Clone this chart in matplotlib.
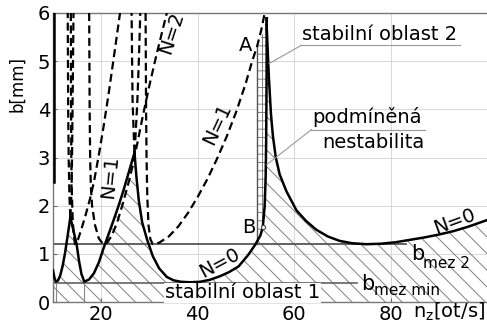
import matplotlib
matplotlib.use('Agg')
import matplotlib.pyplot as plt
import numpy as np
from matplotlib.patches import Polygon

# ---------------- data ----------------
x_ticks = [20, 40, 60, 80]
y_ticks = [0, 1, 2, 3, 4, 5, 6]
b_mez_min = 0.4
b_mez_2 = 1.2
x_strip = 52.3            # left edge of "stabilni oblast 2"
point_A = (52.3, 5.3)
point_B = (53.5, 1.55)

# mode 1 lobes (solid)
m1_n2_x = [10.0, 10.3, 10.6, 11.0, 11.5, 12.0, 12.5, 13.0, 13.6]
m1_n2_b = [0.66, 0.50, 0.42, 0.44, 0.55, 0.75, 1.02, 1.35, 1.76]
m1_n1_x = [13.6, 14.2, 14.9, 15.4, 15.9, 16.5, 17.5, 18.5, 19.5, 20.6, 21.5, 22.5, 23.5, 24.5, 25.5, 26.9]
m1_n1_b = [1.76, 1.50, 1.20, 0.85, 0.58, 0.42, 0.47, 0.60, 0.82, 1.15, 1.40, 1.68, 1.97, 2.28, 2.62, 3.10]
m1_n0_x = [26.9, 27.3, 27.8, 28.5, 29.5, 30.7, 32.0, 33.6, 35.0, 36.5, 38.4, 40.5, 42.5, 44.5,
           46.5, 48.5, 50.5, 52.0, 53.0, 53.5, 53.9, 54.1, 54.2, 54.25, 54.3, 54.3]
m1_n0_b = [3.10, 2.60, 2.10, 1.65, 1.30, 0.95, 0.70, 0.52, 0.45, 0.42, 0.41, 0.42, 0.46, 0.53,
           0.62, 0.74, 0.98, 1.20, 1.38, 1.55, 2.00, 2.60, 3.30, 4.00, 4.80, 5.75]
m1_left_edge_x = [10.12, 10.12]
m1_left_edge_b = [2.5, 6.0]

# mode 1 continuations above the intersections (dashed)
m1c_a_x = [13.6, 13.8, 13.95, 14.05, 14.15, 14.25]
m1c_a_b = [1.76, 2.2, 3.0, 4.0, 5.0, 6.0]
m1c_b_x = [13.6, 13.4, 13.25, 13.15, 13.1, 13.05]
m1c_b_b = [1.76, 2.2, 3.0, 4.0, 5.0, 6.0]
m1c_c_x = [26.9, 27.2, 27.5, 27.8, 28.1]
m1c_c_b = [3.1, 3.6, 4.2, 5.0, 6.0]
m1c_d_x = [26.9, 26.7, 26.5, 26.4, 26.3]
m1c_d_b = [3.1, 3.6, 4.2, 5.0, 6.0]
m1c_e_x = [54.3, 54.45]
m1c_e_b = [5.75, 6.0]

# mode 2 lobes (N=0 solid, others dashed)
m2_n0_x = [54.3, 54.75, 55.2, 55.6, 56.2, 57.0, 58.4, 60.5, 62.5, 64.6, 67.0, 69.4, 72.0, 75.0,
           78.0, 81.0, 84.0, 87.0, 90.0, 93.0, 96.0, 100.0]
m2_n0_b = [5.75, 4.70, 3.90, 3.45, 3.00, 2.65, 2.30, 1.90, 1.68, 1.50, 1.36, 1.27, 1.22, 1.20,
           1.21, 1.24, 1.29, 1.34, 1.40, 1.47, 1.56, 1.70]
m2c_x = [54.3, 54.15]
m2c_b = [5.75, 6.0]
m2_n1_x = [29.2, 29.25, 29.3, 29.4, 29.55, 29.8, 30.2, 30.7, 32.0, 34.0, 36.0, 38.0, 40.0, 42.0,
           44.0, 46.0, 48.0, 50.0, 51.3, 52.3, 53.2, 53.9]
m2_n1_b = [6.0, 5.0, 4.0, 3.0, 2.2, 1.6, 1.3, 1.2, 1.23, 1.36, 1.57, 1.85, 2.18, 2.55,
           2.97, 3.43, 3.95, 4.55, 5.0, 5.3, 5.65, 6.0]
m2_n2_x = [17.5, 17.55, 17.6, 17.7, 17.85, 18.1, 18.7, 19.5, 20.4, 21.2, 22.2, 23.3, 24.5, 26.0,
           27.5, 28.6, 30.0, 31.5, 33.6]
m2_n2_b = [6.0, 5.0, 4.0, 3.0, 2.4, 2.0, 1.6, 1.32, 1.2, 1.23, 1.38, 1.65, 2.05, 2.6,
           3.3, 3.85, 4.5, 5.15, 6.0]
m2_n3_x = [13.7, 13.72, 13.75, 13.8, 13.9, 14.05, 14.25, 14.55, 15.2, 16.0, 16.8, 17.7, 18.5,
           19.5, 20.5, 21.5, 22.5, 23.9]
m2_n3_b = [6.0, 5.0, 4.0, 3.0, 2.3, 1.8, 1.45, 1.2, 1.3, 1.55, 1.82, 2.15, 2.5,
           3.05, 3.65, 4.3, 5.0, 6.0]

# lobe minima of mode 1 marked down to the axis
minima_x = [10.6, 16.5, 38.4]
minima_b = [0.42, 0.42, 0.41]

# ---------------- style ----------------
plt.rcParams['font.family'] = ['DejaVu Sans']
plt.rcParams['mathtext.default'] = 'regular'
plt.rcParams['hatch.linewidth'] = 0.7
plt.rcParams['hatch.color'] = '#808080'

W, H = 487, 329
fig = plt.figure(figsize=(W / 100, H / 100), dpi=100)
ax = fig.add_axes([53 / W, 27 / H, 434 / W, 289 / H])
ax.set_xlim(10, 100)
ax.set_ylim(0, 6)
ax.set_xticks(x_ticks)
ax.set_yticks(y_ticks)
ax.tick_params(labelsize=14, length=3, direction='in', pad=2, color='#666666')
ax.grid(True, color='#d8d8d8', lw=0.7)
ax.set_axisbelow(True)
for s in ['top', 'left', 'bottom']:
    ax.spines[s].set_color('#777777')
    ax.spines[s].set_linewidth(1.0)
ax.spines['right'].set_visible(False)

hatch_col = '#808080'
diag = '\\\\'

# ---- diagonal hatched stable region ----
env_x = m1_n2_x + m1_n1_x[1:] + [x for x in m1_n0_x[1:] if x <= 52.0] + [x_strip]
env_b = m1_n2_b + m1_n1_b[1:] + [b for x, b in zip(m1_n0_x[1:], m1_n0_b[1:]) if x <= 52.0] + [1.22]
poly_left = list(zip(env_x, env_b)) + [(x_strip, 0), (env_x[0], 0)]
ax.add_patch(Polygon(poly_left, closed=True, facecolor='none', edgecolor=hatch_col,
                     hatch=diag, lw=0, zorder=1))
poly_right = [(x_strip, 0), (x_strip, point_A[1]), (m2_n0_x[0], m2_n0_b[0])] + \
             list(zip(m2_n0_x, m2_n0_b)) + [(100, 0)]
ax.add_patch(Polygon(poly_right, closed=True, facecolor='none', edgecolor=hatch_col,
                     hatch=diag, lw=0, zorder=1))

# ---- stabilni oblast 2 strip ----
strip_right = [(x, b) for x, b in zip(m1_n0_x, m1_n0_b) if x > 50 and b >= b_mez_2]
strip = [(x_strip, b_mez_2), point_A] + strip_right[::-1] + [(strip_right[0][0], b_mez_2)]
ax.add_patch(Polygon(strip, closed=True, facecolor='white', edgecolor=hatch_col,
                     hatch='++', lw=0, zorder=1.5))
ax.plot([x_strip, x_strip], [b_mez_2, point_A[1]], color='#555555', lw=1.0, zorder=2)

# ---- horizontal limits ----
ax.plot([10, 83.3], [b_mez_2, b_mez_2], color='#555555', lw=1.3, zorder=2)
ax.plot([10, 73.1], [b_mez_min, b_mez_min], color='#555555', lw=1.1, zorder=2)
for mx, mb in zip(minima_x, minima_b):
    ax.plot([mx, mx], [0, mb], color='#888888', lw=0.8, zorder=2)

# ---- dashed lobes ----
dkw = dict(color='black', lw=1.6, ls=(0, (3.6, 2.0)), zorder=3)
for xs, bs in [(m1c_a_x, m1c_a_b), (m1c_b_x, m1c_b_b), (m1c_c_x, m1c_c_b), (m1c_d_x, m1c_d_b),
               (m1c_e_x, m1c_e_b), (m2c_x, m2c_b), (m2_n1_x, m2_n1_b), (m2_n2_x, m2_n2_b),
               (m2_n3_x, m2_n3_b)]:
    ax.plot(xs, bs, **dkw)

# ---- solid lobes ----
skw = dict(color='black', lw=1.8, zorder=4, solid_joinstyle='round')
for xs, bs in [(m1_n2_x, m1_n2_b), (m1_n1_x, m1_n1_b), (m1_n0_x, m1_n0_b), (m2_n0_x, m2_n0_b),
               (m1_left_edge_x, m1_left_edge_b)]:
    ax.plot(xs, bs, **skw)

# ---- points ----
ax.plot([point_B[0]], [point_B[1]], marker='o', ms=3, mfc='white', mec='#444444', mew=0.8, zorder=5)
ax.text(50.0, 5.32, 'A', fontsize=14, ha='center', va='center', zorder=6)
ax.text(50.6, 1.55, 'B', fontsize=14, ha='center', va='center', zorder=6)

# ---- labels ----
lab = dict(fontsize=14, zorder=6)
ax.text(61.6, 5.55, 'stabilní oblast 2', ha='left', va='center', **lab)
ax.plot([61.5, 94.5], [5.33, 5.33], color='#999999', lw=0.8, zorder=6)
ax.plot([54.8, 61.5], [4.95, 5.33], color='#999999', lw=0.8, zorder=6)
ax.text(63.8, 3.84, 'podmíněná', ha='left', va='center', **lab)
ax.text(65.8, 3.32, 'nestabilita', ha='left', va='center', **lab)
ax.plot([63.6, 87.2], [3.58, 3.58], color='#999999', lw=0.8, zorder=6)
ax.plot([54.3, 63.6], [2.85, 3.58], color='#999999', lw=0.8, zorder=6)

ax.text(33.2, 0.19, 'stabilní oblast 1', ha='left', va='center', fontsize=14, zorder=6,
        bbox=dict(facecolor='white', edgecolor='none', pad=0.5))

ax.text(74.0, 0.25, 'b', fontsize=15, ha='left', va='baseline', zorder=6)
ax.text(76.5, 0.14, 'mez min', fontsize=11, ha='left', va='baseline', zorder=6)
ax.text(84.2, 0.87, 'b', fontsize=15, ha='left', va='baseline', zorder=6)
ax.text(86.8, 0.70, 'mez 2', fontsize=11, ha='left', va='baseline', zorder=6)

ax.text(44.6, 0.81, 'N=0', rotation=28, ha='center', va='center', **lab)
ax.text(93.2, 1.67, 'N=0', rotation=20, ha='center', va='center', **lab)
ax.text(44.0, 3.70, 'N=1', rotation=65, ha='center', va='center', **lab)
ax.text(34.6, 5.60, 'N=2', rotation=72, ha='center', va='center', **lab)
ax.text(21.8, 2.60, 'N=1', rotation=84, ha='center', va='center', **lab)

fig.text(17 / W, 1 - 84 / H, 'b[mm]', rotation=90, fontsize=12, ha='center', va='center')
fig.text(413 / W, 1 - 318 / H, r'n$_{z}$[ot/s]', fontsize=14, ha='left', va='baseline')

fig.savefig('out.png', dpi=100)
